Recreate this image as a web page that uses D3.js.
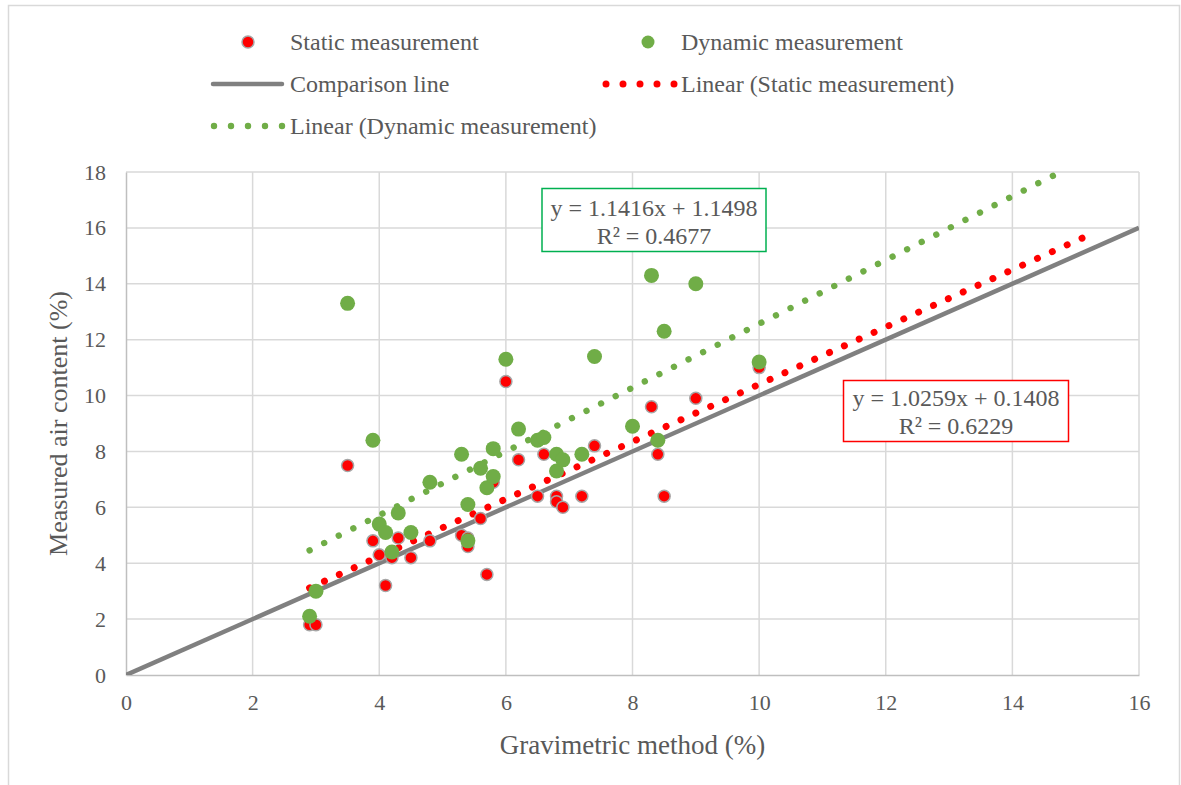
<!DOCTYPE html>
<html>
<head>
<meta charset="utf-8">
<script src="https://cdn.jsdelivr.net/npm/d3@7"></script>
<style>
  body { margin: 0; background: #fff; }
  svg { display: block; }
  text { font-family: "Liberation Serif", "Times New Roman", serif; fill: #595959; }
</style>
</head>
<body>
<svg class="chart" width="1181" height="785"></svg>
<script>
// data
var staticX = [2.9, 3.0, 3.5, 3.9, 4.0, 4.1, 4.2, 4.3, 4.5, 4.8, 5.3, 5.4, 5.4, 5.6, 5.7, 5.8, 6.0, 6.2, 6.5, 6.6, 6.8, 6.8, 6.9, 7.2, 7.4, 8.3, 8.4, 8.5, 9.0, 10.0];
var staticY = [1.8, 1.8, 7.5, 4.8, 4.3, 3.2, 4.2, 4.9, 4.2, 4.8, 5.0, 4.6, 4.9, 5.6, 3.6, 6.9, 10.5, 7.7, 6.4, 7.9, 6.4, 6.2, 6.0, 6.4, 8.2, 9.6, 7.9, 6.4, 9.9, 11.0];
var dynamicX = [2.9, 3.0, 3.5, 3.9, 4.0, 4.1, 4.2, 4.3, 4.5, 4.8, 5.3, 5.4, 5.4, 5.6, 5.7, 5.8, 5.8, 6.0, 6.2, 6.5, 6.6, 6.8, 6.8, 6.9, 7.2, 7.4, 8.0, 8.3, 8.4, 8.5, 9.0, 10.0];
var dynamicY = [2.1, 3.0, 13.3, 8.4, 5.4, 5.1, 4.4, 5.8, 5.1, 6.9, 7.9, 6.1, 4.8, 7.4, 6.7, 8.1, 7.1, 11.3, 8.8, 8.4, 8.5, 7.9, 7.3, 7.7, 7.9, 11.4, 8.9, 14.3, 8.4, 12.3, 14.0, 11.2];
var comparisonX = [0, 16];
var staticFit = [1.0259, 0.1408];
var dynamicFit = [1.1416, 1.1498];
var fitRange = [2.9, 15.1];
var xTicks = [0, 2, 4, 6, 8, 10, 12, 14, 16];
var yTicks = [0, 2, 4, 6, 8, 10, 12, 14, 16, 18];
var staticLabel = ["y = 1.0259x + 0.1408", "R\u00b2 = 0.6229"];
var dynamicLabel = ["y = 1.1416x + 1.1498", "R\u00b2 = 0.4677"];

var svg = d3.select("svg.chart");
var plot = { left: 126, right: 1139, top: 172, bottom: 675 };

var x = d3.scaleLinear().domain([0, 16]).range([plot.left, plot.right]);
var y = d3.scaleLinear().domain([0, 18]).range([plot.bottom, plot.top]);

// outer frame
svg.append("rect")
    .attr("x", 8.5).attr("y", 5.5).attr("width", 1171).attr("height", 800)
    .attr("fill", "none").attr("stroke", "#d9d9d9").attr("stroke-width", 1.5);

svg.append("clipPath").attr("id", "clip")
  .append("rect")
    .attr("x", plot.left).attr("y", plot.top)
    .attr("width", plot.right - plot.left).attr("height", plot.bottom - plot.top);

// gridlines
var grid = svg.append("g").attr("stroke", "#d9d9d9").attr("stroke-width", 1.5);
grid.selectAll("line.v").data(xTicks.slice(1)).enter().append("line")
    .attr("x1", function (d) { return x(d); }).attr("x2", function (d) { return x(d); })
    .attr("y1", plot.top).attr("y2", plot.bottom);
grid.selectAll("line.h").data(yTicks.slice(1)).enter().append("line")
    .attr("x1", plot.left).attr("x2", plot.right)
    .attr("y1", function (d) { return y(d); }).attr("y2", function (d) { return y(d); });

// axes
var xAxis = svg.append("g")
    .attr("transform", "translate(0," + plot.bottom + ")")
    .call(d3.axisBottom(x).tickValues(xTicks).tickSize(0).tickPadding(19));
var yAxis = svg.append("g")
    .attr("transform", "translate(" + plot.left + ",0)")
    .call(d3.axisLeft(y).tickValues(yTicks).tickSize(0).tickPadding(20));
[xAxis, yAxis].forEach(function (a) {
    a.attr("font-family", null);
    a.select(".domain").attr("stroke", "#bfbfbf").attr("stroke-width", 1.5);
    a.selectAll("text").attr("font-size", 22).attr("fill", "#595959")
        .style("font-family", "'Liberation Serif', serif");
});

svg.append("text")
    .attr("x", (plot.left + plot.right) / 2).attr("y", 754)
    .attr("text-anchor", "middle").attr("font-size", 27)
    .text("Gravimetric method (%)");
svg.append("text")
    .attr("transform", "translate(67," + (plot.top + plot.bottom) / 2 + ") rotate(-90)")
    .attr("text-anchor", "middle").attr("font-size", 26)
    .text("Measured air content (%)");

var inner = svg.append("g").attr("clip-path", "url(#clip)");

// comparison line y = x
var line = d3.line().x(function (d) { return x(d); }).y(function (d) { return y(d); });
inner.append("path")
    .attr("d", line(comparisonX))
    .attr("fill", "none").attr("stroke", "#808080").attr("stroke-width", 4.5);

// trendlines, dots spread evenly over the fitted range
function fitLine(fit, color, width) {
    var p0 = [x(fitRange[0]), y(fit[0] * fitRange[0] + fit[1])];
    var p1 = [x(fitRange[1]), y(fit[0] * fitRange[1] + fit[1])];
    var len = Math.hypot(p1[0] - p0[0], p1[1] - p0[1]);
    var step = len / Math.round(len / 16.3);
    inner.append("path")
        .attr("d", d3.line()
            .x(function (d) { return x(d); })
            .y(function (d) { return y(fit[0] * d + fit[1]); })(fitRange))
        .attr("fill", "none").attr("stroke", color).attr("stroke-width", width)
        .attr("stroke-linecap", "round").attr("stroke-dasharray", "0.01 " + (step - 0.01));
}
fitLine(staticFit, "#ff0000", 7);
fitLine(dynamicFit, "#70ad47", 6.4);

// markers
svg.append("g").selectAll("circle").data(staticX).enter().append("circle")
    .attr("cx", function (d) { return x(d); })
    .attr("cy", function (d, i) { return y(staticY[i]); })
    .attr("r", 6)
    .attr("fill", "#ff0000").attr("stroke", "#a6a6a6").attr("stroke-width", 1.5);
svg.append("g").selectAll("circle").data(dynamicX).enter().append("circle")
    .attr("cx", function (d) { return x(d); })
    .attr("cy", function (d, i) { return y(dynamicY[i]); })
    .attr("r", 7.5)
    .attr("fill", "#70ad47");

// equation labels
function eqBox(lines, bx, by, bw, bh, color, off) {
    var g = svg.append("g");
    g.append("rect").attr("x", bx).attr("y", by).attr("width", bw).attr("height", bh)
        .attr("fill", "#fff").attr("stroke", color).attr("stroke-width", 1.5);
    g.selectAll("text").data(lines).enter().append("text")
        .attr("x", bx + bw / 2)
        .attr("y", function (d, i) { return by + off + i * 28; })
        .attr("text-anchor", "middle").attr("font-size", 24)
        .text(function (d) { return d; });
}
eqBox(dynamicLabel, 542, 188.5, 224, 63, "#00b050", 27);
eqBox(staticLabel, 843.5, 380.5, 225, 61, "#ff0000", 25);

// legend
var legend = svg.append("g").attr("font-size", 24);
legend.append("circle").attr("cx", 248).attr("cy", 42).attr("r", 6)
    .attr("fill", "#ff0000").attr("stroke", "#a6a6a6").attr("stroke-width", 1.5);
legend.append("text").attr("x", 290).attr("y", 50).text("Static measurement");
legend.append("circle").attr("cx", 648).attr("cy", 42).attr("r", 6.5).attr("fill", "#70ad47");
legend.append("text").attr("x", 681).attr("y", 50).text("Dynamic measurement");
legend.append("line").attr("x1", 213).attr("x2", 282).attr("y1", 84).attr("y2", 84)
    .attr("stroke", "#808080").attr("stroke-width", 4.5).attr("stroke-linecap", "round");
legend.append("text").attr("x", 290).attr("y", 92).text("Comparison line");
legend.append("line").attr("x1", 606).attr("x2", 674).attr("y1", 84).attr("y2", 84)
    .attr("stroke", "#ff0000").attr("stroke-width", 7)
    .attr("stroke-linecap", "round").attr("stroke-dasharray", "0.01 16.99");
legend.append("text").attr("x", 681).attr("y", 92).text("Linear (Static measurement)");
legend.append("line").attr("x1", 214).attr("x2", 282).attr("y1", 126).attr("y2", 126)
    .attr("stroke", "#70ad47").attr("stroke-width", 6.4)
    .attr("stroke-linecap", "round").attr("stroke-dasharray", "0.01 16.99");
legend.append("text").attr("x", 290).attr("y", 134).text("Linear (Dynamic measurement)");
</script>
</body>
</html>
